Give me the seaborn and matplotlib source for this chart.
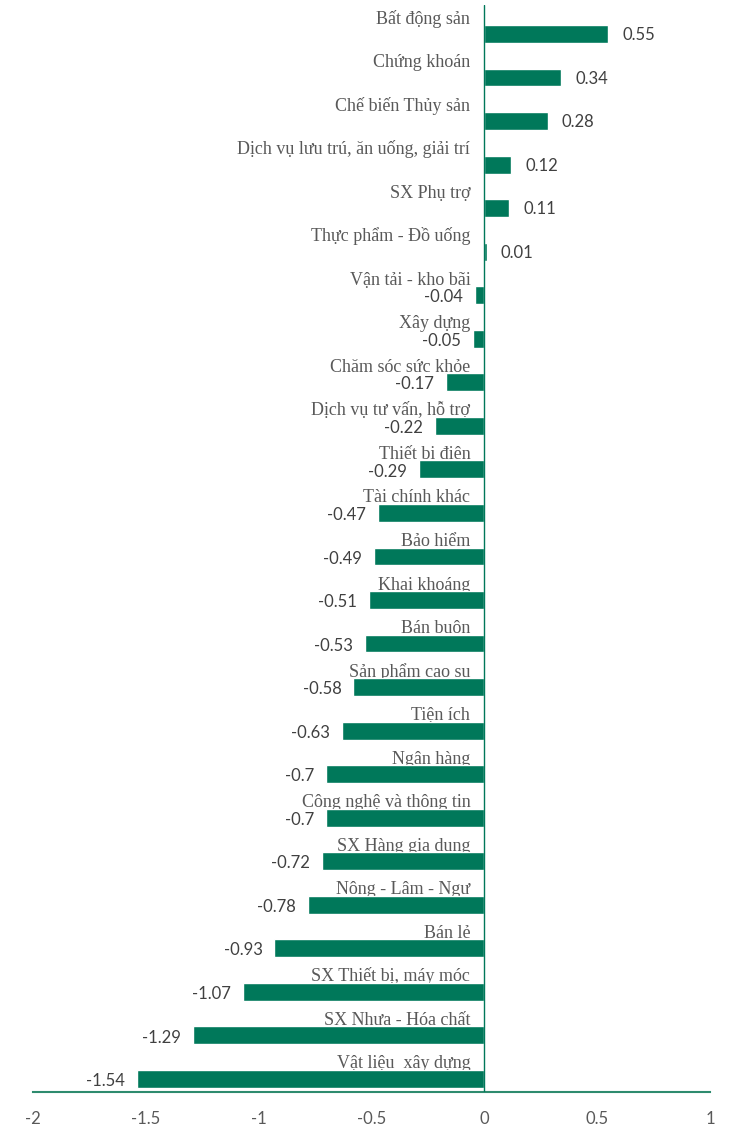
import matplotlib
matplotlib.use("Agg")
import matplotlib.pyplot as plt
import seaborn as sns
import pandas as pd

categories = [
    "Bất động sản", "Chứng khoán", "Chế biến Thủy sản",
    "Dịch vụ lưu trú, ăn uống, giải trí", "SX Phụ trợ", "Thực phẩm - Đồ uống",
    "Vận tải - kho bãi", "Xây dựng", "Chăm sóc sức khỏe", "Dịch vụ tư vấn, hỗ trợ",
    "Thiết bị điện", "Tài chính khác", "Bảo hiểm", "Khai khoáng", "Bán buôn",
    "Sản phẩm cao su", "Tiện ích", "Ngân hàng", "Công nghệ và thông tin",
    "SX Hàng gia dụng", "Nông - Lâm - Ngư", "Bán lẻ", "SX Thiết bị, máy móc",
    "SX Nhựa - Hóa chất", "Vật liệu  xây dựng",
]
values = [
    0.55, 0.34, 0.28, 0.12, 0.11, 0.01, -0.04, -0.05, -0.17, -0.22, -0.29,
    -0.47, -0.49, -0.51, -0.53, -0.58, -0.63, -0.7, -0.7, -0.72, -0.78,
    -0.93, -1.07, -1.29, -1.54,
]
x_ticks = [-2, -1.5, -1, -0.5, 0, 0.5, 1]

GREEN = "#00785A"
GRAY = "#595959"
SANS = "Lato"
SERIF = "Liberation Serif"

sns.set_theme(style="white")
df = pd.DataFrame({"category": categories, "value": values})

fig = plt.figure(figsize=(7.36, 11.27), dpi=100)
ax = fig.add_axes([33 / 736, 1 - 1092 / 1127, (710 - 33) / 736, (1092 - 5) / 1127])

sns.barplot(data=df, x="value", y="category", order=categories, orient="h",
            color=GREEN, saturation=1, width=0.41, ax=ax, zorder=3)

n = len(categories)
ax.set_xlim(-2, 1)
ax.set_ylim(n - 1 + 0.3, -0.666)

ax.axvline(0, color=GREEN, lw=1.0, zorder=4)

for i, (cat, v) in enumerate(zip(categories, values)):
    # category name sits above its bar, right-aligned just left of zero
    ax.text(-0.062, i - 0.24, cat, ha="right", va="baseline", fontsize=13,
            family=SERIF, color=GRAY, zorder=2)
    label = f"{v:g}"
    if v >= 0:
        ax.text(v + 0.062, i + 0.03, label, ha="left", va="center",
                fontsize=12, family=SANS, color="#404040", zorder=5)
    else:
        ax.text(v - 0.053, i + 0.05, label, ha="right", va="center",
                fontsize=12, family=SANS, color="#404040", zorder=5)

ax.set_yticks([])
ax.set_ylabel("")
ax.set_xlabel("")
ax.set_xticks(x_ticks)
ax.set_xticklabels([f"{t:g}" for t in x_ticks], family=SANS, fontsize=12, color=GRAY)
ax.tick_params(axis="x", length=0, pad=14)

for side in ["top", "right", "left"]:
    ax.spines[side].set_visible(False)
ax.spines["bottom"].set_color("#2E8B6E")
ax.spines["bottom"].set_linewidth(1.5)

fig.savefig("out.png", dpi=100)
